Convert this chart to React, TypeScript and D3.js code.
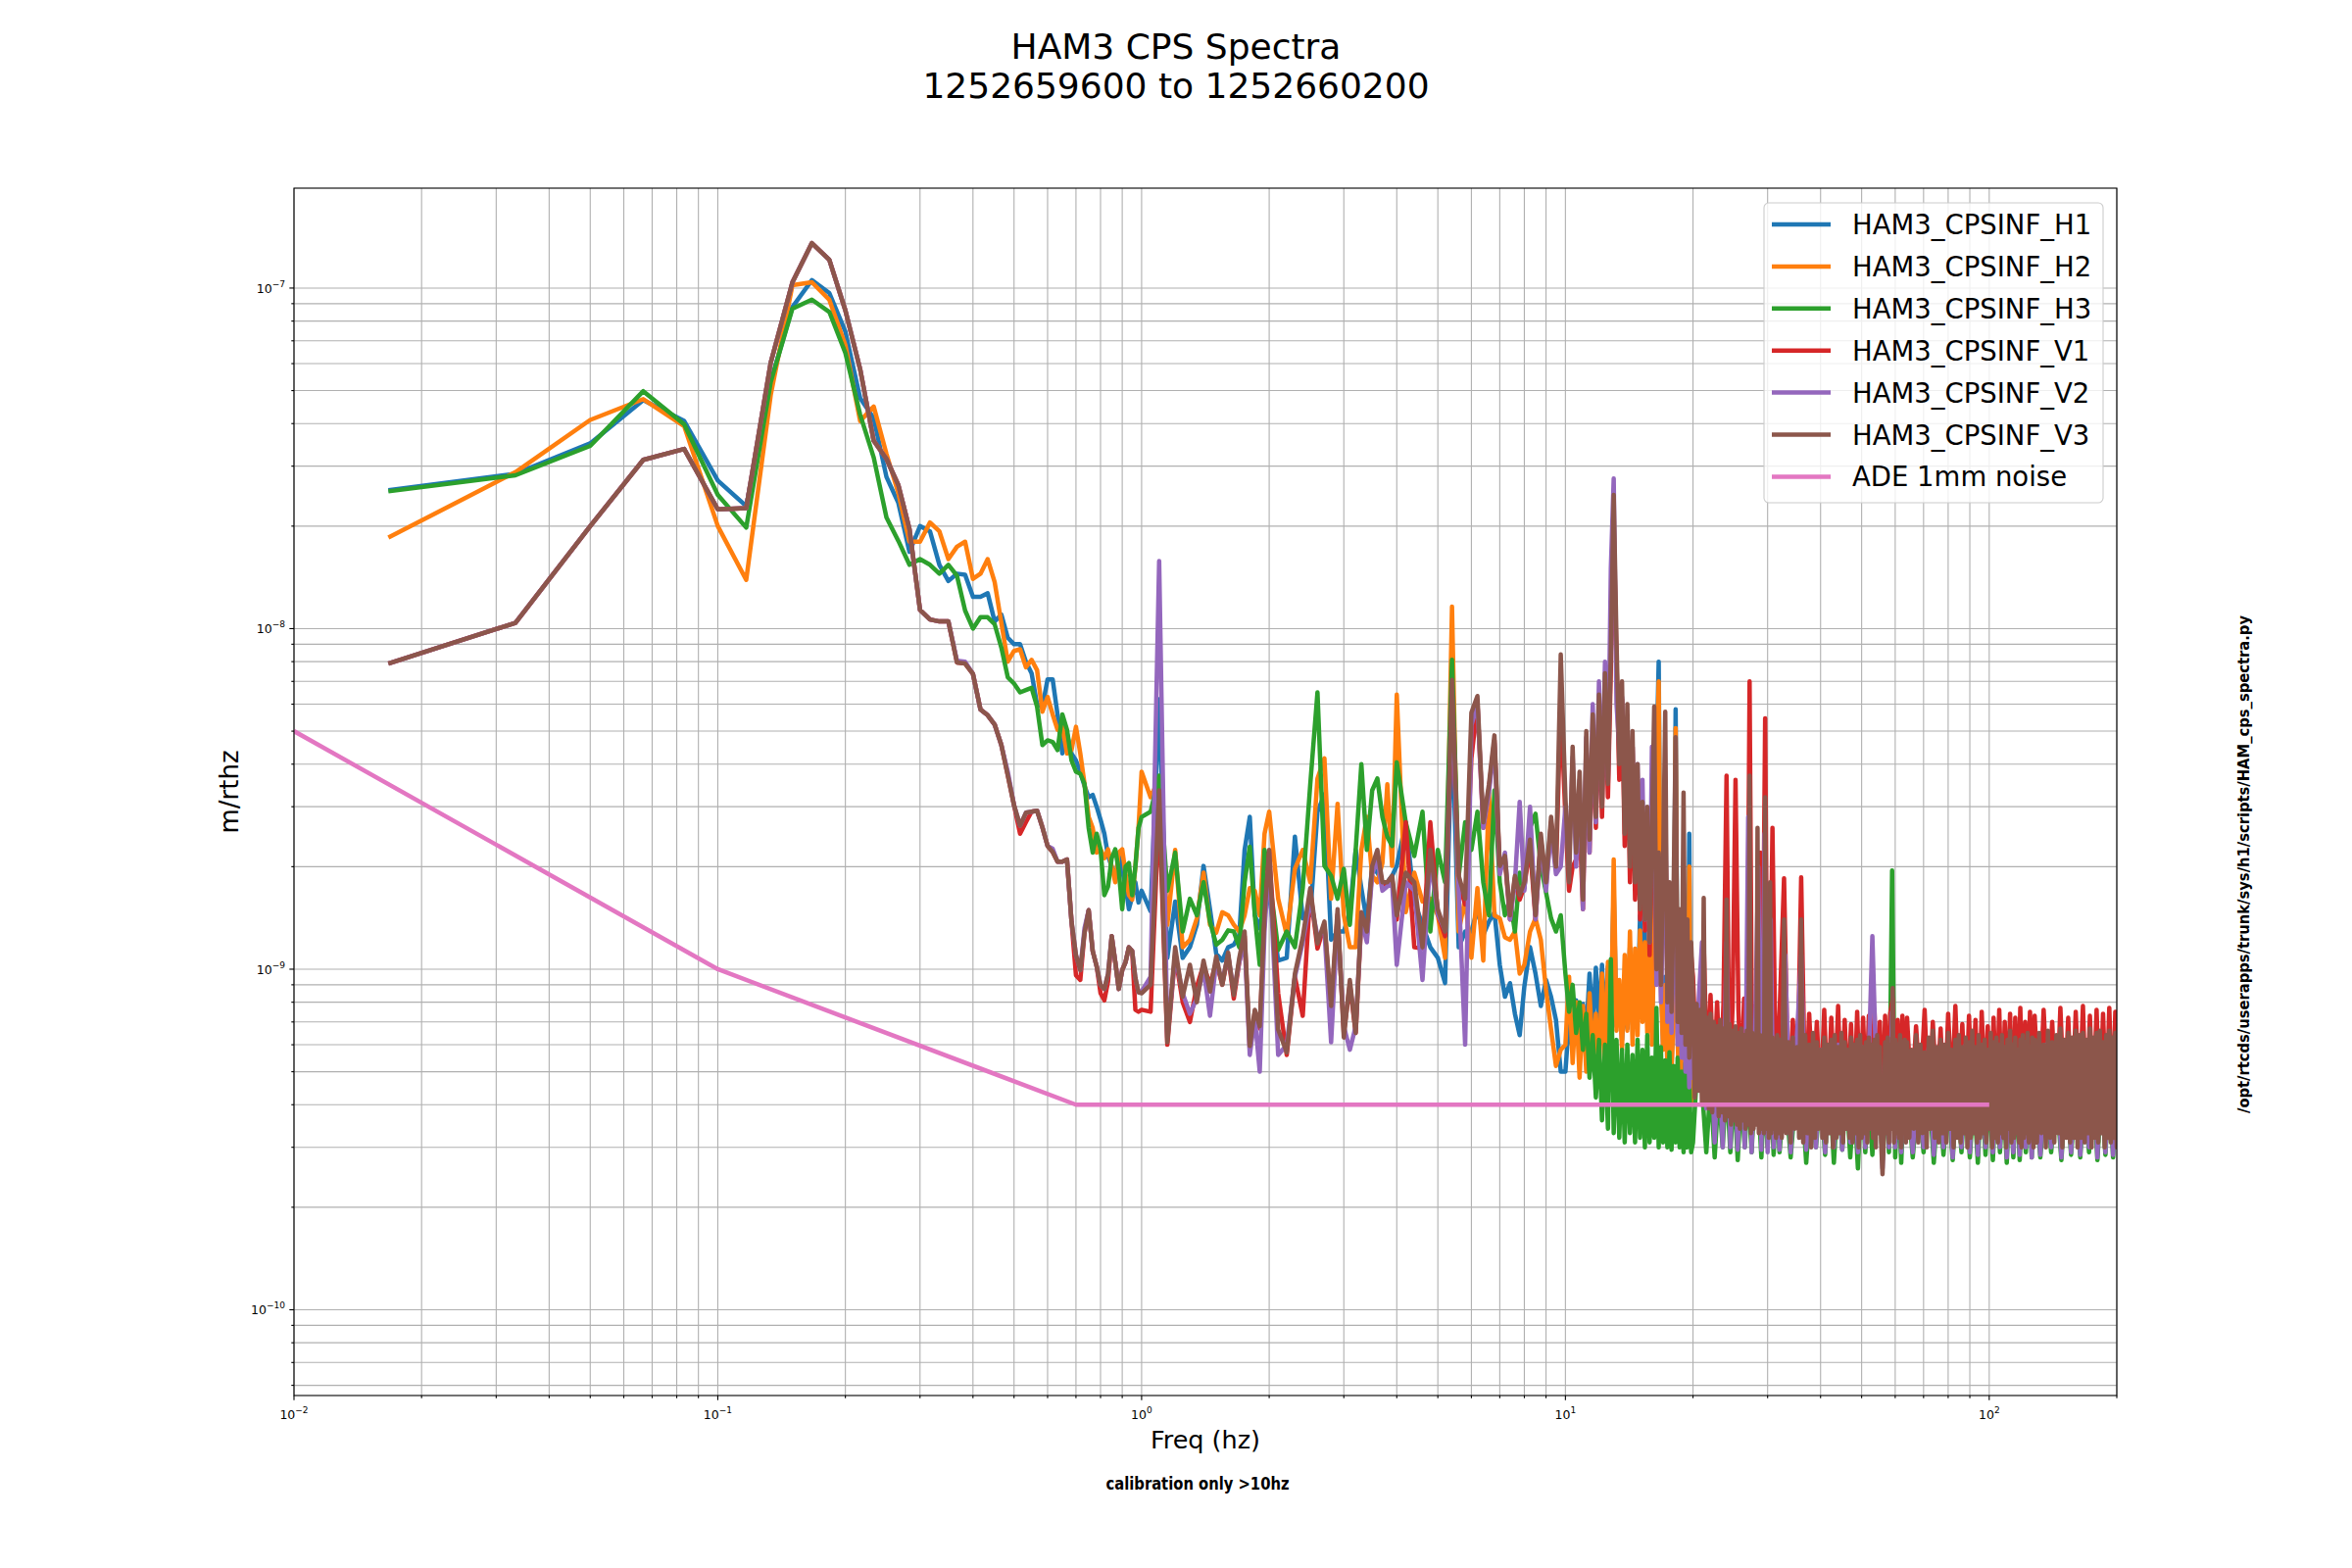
import React, { useEffect, useRef } from 'react';
import * as d3 from 'd3';

// all amplitudes below are in units of 1e-10 m/rthz
const UNIT = 1e-10;

// low frequency bins (k / 60 Hz)
const lowFreq = [
  0.0167, 0.0333, 0.05, 0.0667, 0.0833, 0.1, 0.1167, 0.1333, 0.15, 0.1667,
  0.1833, 0.2, 0.2167, 0.2333, 0.25, 0.2667, 0.2833, 0.3, 0.3167, 0.3333,
  0.35, 0.3667, 0.3833, 0.4, 0.4167, 0.4333, 0.45, 0.4667, 0.4833, 0.5,
  0.5167, 0.5333, 0.55, 0.5667, 0.5833, 0.6, 0.6167, 0.6333, 0.65, 0.6667,
  0.6833, 0.7, 0.7167, 0.7333, 0.75, 0.7667, 0.7833, 0.8, 0.8167, 0.8333,
  0.85, 0.8667, 0.8833, 0.9, 0.9167, 0.9333, 0.95, 0.9667, 0.9833,
];

// 1 to 9.75 Hz
const hfFreq = [
  1, 1.05, 1.1, 1.15, 1.2, 1.25, 1.3, 1.35, 1.4, 1.45, 1.5, 1.55, 1.6, 1.65, 1.7, 1.75, 1.8, 1.85, 1.9, 1.95,
  2, 2.1, 2.2, 2.3, 2.4, 2.5, 2.6, 2.7, 2.8, 2.9, 3, 3.1, 3.2, 3.3, 3.4, 3.5, 3.6, 3.7, 3.8, 3.9,
  4, 4.2, 4.4, 4.6, 4.8, 5, 5.2, 5.4, 5.6, 5.8, 6, 6.2, 6.4, 6.6, 6.8, 7, 7.2, 7.4, 7.6, 7.8,
  8, 8.25, 8.5, 8.75, 9, 9.25, 9.5, 9.75,
];

// 10 to 19.8 Hz
const midFreq = [
  10, 10.2, 10.4, 10.6, 10.8, 11, 11.2, 11.4, 11.6, 11.8, 12, 12.2, 12.4, 12.6, 12.8, 13, 13.2, 13.4, 13.6, 13.8,
  14, 14.2, 14.4, 14.6, 14.8, 15, 15.2, 15.4, 15.6, 15.8, 16, 16.2, 16.4, 16.6, 16.8, 17, 17.2, 17.4, 17.6, 17.8,
  18, 18.2, 18.4, 18.6, 18.8, 19, 19.2, 19.4, 19.6, 19.8,
];

// 20 to 204 Hz, for H1 / H2 / H3 / V2
const bandFreq = [
  20, 20.5, 21, 21.5, 22, 22.5, 23, 23.5,
  24, 24.5, 25, 25.5, 26, 26.5, 27, 27.5, 28, 28.5, 29, 29.5, 30, 30.5, 31, 31.5,
  32, 33, 34, 35, 36, 37, 38, 39, 40, 41, 42, 43, 44, 45, 46, 47,
  48, 49, 50, 51, 52, 53, 54, 55, 56, 57, 58, 59, 60, 61, 62, 63,
  64, 66, 68, 70, 72, 74, 76, 78, 80, 82, 84, 86, 88, 90, 92, 94,
  96, 98, 100, 102, 104, 106, 108, 110, 112, 114, 116, 118, 120, 122, 124, 126,
  128, 132, 136, 140, 144, 148, 152, 156, 160, 164, 168, 172, 176, 180, 184, 188, 192, 196, 200, 204,
];

// 20 to 204.8 Hz, for V1
const denseFreq = [
  20, 20.4, 20.8, 21.2, 21.6, 22, 22.4, 22.8, 23.2, 23.6, 24, 24.4, 24.8, 25.2, 25.6,
  26, 26.4, 26.8, 27.2, 27.6, 28, 28.4, 28.8, 29.2, 29.6, 30, 30.4, 30.8, 31.2, 31.6,
  32, 32.8, 33.6, 34.4, 35.2, 36, 36.8, 37.6, 38.4, 39.2, 40, 40.8, 41.6, 42.4, 43.2, 44, 44.8, 45.6, 46.4, 47.2,
  48, 48.8, 49.6, 50.4, 51.2, 52, 52.8, 53.6, 54.4, 55.2, 56, 56.8, 57.6, 58.4, 59.2, 60, 60.8, 61.6, 62.4, 63.2,
  64, 65.6, 67.2, 68.8, 70.4, 72, 73.6, 75.2, 76.8, 78.4, 80, 81.6, 83.2, 84.8, 86.4, 88, 89.6, 91.2, 92.8, 94.4,
  96, 97.6, 99.2, 100.8, 102.4, 104, 105.6, 107.2, 108.8, 110.4, 112, 113.6, 115.2, 116.8, 118.4, 120, 121.6, 123.2, 124.8, 126.4,
  128, 131.2, 134.4, 137.6, 140.8, 144, 147.2, 150.4, 153.6, 156.8, 160, 163.2, 166.4, 169.6, 172.8,
  176, 179.2, 182.4, 185.6, 188.8, 192, 195.2, 198.4, 201.6, 204.8,
];

// 20 to 204.8 Hz, for V3
const fineFreq = [
  20, 20.2, 20.4, 20.6, 20.8, 21, 21.2, 21.4, 21.6, 21.8, 22, 22.2, 22.4, 22.6, 22.8, 23, 23.2, 23.4, 23.6, 23.8,
  24, 24.2, 24.4, 24.6, 24.8, 25, 25.2, 25.4, 25.6, 25.8, 26, 26.2, 26.4, 26.6, 26.8, 27, 27.2, 27.4, 27.6, 27.8,
  28, 28.2, 28.4, 28.6, 28.8, 29, 29.2, 29.4, 29.6, 29.8, 30, 30.2, 30.4, 30.6, 30.8, 31, 31.2, 31.4, 31.6, 31.8,
  32, 32.4, 32.8, 33.2, 33.6, 34, 34.4, 34.8, 35.2, 35.6, 36, 36.4, 36.8, 37.2, 37.6, 38, 38.4, 38.8, 39.2, 39.6,
  40, 40.4, 40.8, 41.2, 41.6, 42, 42.4, 42.8, 43.2, 43.6, 44, 44.4, 44.8, 45.2, 45.6, 46, 46.4, 46.8, 47.2, 47.6,
  48, 48.4, 48.8, 49.2, 49.6, 50, 50.4, 50.8, 51.2, 51.6, 52, 52.4, 52.8, 53.2, 53.6, 54, 54.4, 54.8, 55.2, 55.6,
  56, 56.4, 56.8, 57.2, 57.6, 58, 58.4, 58.8, 59.2, 59.6, 60, 60.4, 60.8, 61.2, 61.6, 62, 62.4, 62.8, 63.2, 63.6,
  64, 64.8, 65.6, 66.4, 67.2, 68, 68.8, 69.6, 70.4, 71.2, 72, 72.8, 73.6, 74.4, 75.2, 76, 76.8, 77.6, 78.4, 79.2,
  80, 80.8, 81.6, 82.4, 83.2, 84, 84.8, 85.6, 86.4, 87.2, 88, 88.8, 89.6, 90.4, 91.2, 92, 92.8, 93.6, 94.4, 95.2,
  96, 96.8, 97.6, 98.4, 99.2, 100, 100.8, 101.6, 102.4, 103.2, 104, 104.8, 105.6, 106.4, 107.2, 108, 108.8, 109.6, 110.4, 111.2,
  112, 112.8, 113.6, 114.4, 115.2, 116, 116.8, 117.6, 118.4, 119.2, 120, 120.8, 121.6, 122.4, 123.2, 124, 124.8, 125.6, 126.4, 127.2,
  128, 129.6, 131.2, 132.8, 134.4, 136, 137.6, 139.2, 140.8, 142.4, 144, 145.6, 147.2, 148.8, 150.4, 152, 153.6, 155.2, 156.8, 158.4,
  160, 161.6, 163.2, 164.8, 166.4, 168, 169.6, 171.2, 172.8, 174.4, 176, 177.6, 179.2, 180.8, 182.4, 184, 185.6, 187.2, 188.8, 190.4,
  192, 193.6, 195.2, 196.8, 198.4, 200, 201.6, 203.2, 204.8,
];

// ---------- HAM3_CPSINF_H1 ----------
const lowH1 = [
  255, 285, 350, 469, 407, 272, 229, 530, 880, 1055, 967, 745, 475, 415, 279, 234, 168,
  200, 193, 154, 138, 145, 144, 124, 124, 127, 105, 110, 94, 90, 90, 80, 74, 60, 59, 71, 71,
  56, 43, 49, 43, 41, 38, 34.5, 32, 32.5, 30, 27.5, 25, 21.5, 20, 18.5, 21.5, 19.5, 17.5, 15, 16.3, 18, 15.7,
];
const hfH1 = [
  17, 14.8, 62, 10.8, 15.8, 10.8, 11.6, 13.5, 20.1, 15, 11.1, 10.6, 11.6, 11.8, 12.6, 22.4, 28, 14.4, 13.2, 16.1,
  16.5, 10.6, 10.8, 24.5, 14.1, 14.4, 29, 32.6, 12.2, 12.9, 12.9, 14.7, 22.4, 17.3, 13.8, 20.1, 19.2, 18, 18, 18.8,
  20.1, 27, 15.8, 13.5, 11.6, 10.8, 9.1, 54.3, 11.6, 12.9, 12.9, 15, 12.6, 13.8, 14.7, 10.3, 8.3, 9.1, 7.4, 6.4,
  8.9, 11.6, 9.7, 7.8, 9.3, 8.3, 7.1, 5.0,
];
const midH1 = [
  5.0, 7.1, 5.8, 8.1, 6.0, 7.9, 6.5, 9.7, 6.8, 10.1, 7.0, 10.3, 6.6, 10.2, 7.4, 17, 6.8, 8.7, 6.2, 8.5,
  6.7, 11.6, 6.9, 10.3, 7.2, 14.4, 7.5, 12.9, 7.0, 12, 6.6, 14, 40, 80, 10, 6.0, 9.5, 5.5, 8.5, 5.2,
  8.0, 58, 6.5, 4.8, 7.2, 4.4, 6.8, 4.2, 25, 4.5,
];
const bandH1 = [
  6, 7, 5, 4.2, 6.0, 3.6, 5.8, 3.4,
  6, 3.3, 5.5, 3.2, 5.4, 3.3, 6, 3.1, 5.3, 5, 3.2, 5.5, 3.1, 5.2, 3.2, 5.4,
  3.2, 5.2, 3.1, 5.0, 5.3, 3.2, 5.1, 3.3, 5.2, 3.1, 5.0, 3.2, 5.3, 3.1, 5.1, 3.2,
  4.9, 3.1, 5.2, 3.2, 5.0, 3.1, 5.2, 5.1, 3.0, 5.0, 3.2, 6.0, 3.1, 5.1, 3.2, 5.0,
  5.1, 3.1, 4.9, 3.2, 5.2, 3.0, 5.0, 3.2, 4.8, 3.1, 5.1, 3.2, 5.3, 3.0, 5.0, 3.1,
  5.2, 3.2, 5.0, 3.0, 5.3, 3.2, 4.9, 3.1, 5.1, 3.0, 5.2, 3.1, 5.0, 3.2, 5.1, 3.0,
  5.2, 3.1, 5.3, 3.2, 5.0, 3.0, 5.4, 3.1, 5.1, 3.0, 5.2, 3.2, 5.4, 3.0, 5.1, 3.1, 5.3, 3.0, 5.2, 3.1,
];

// ---------- HAM3_CPSINF_H2 ----------
const lowH2 = [
  185, 288, 410, 472, 393, 200, 139, 485, 1020, 1040, 924, 680, 407, 449, 326, 250, 180,
  180, 205, 193, 160, 174, 180, 140, 145, 160, 137, 104, 80, 86, 87, 77, 81, 75.5, 57, 63, 56,
  50.5, 51.5, 43, 44, 51.5, 43, 35, 28, 26, 22, 22.5, 21.2, 22.5, 20, 18, 22, 22.5, 19, 16.5, 16, 20, 26,
];
const hfH2 = [
  38, 32, 36.3, 13.5, 22.4, 11.6, 12.2, 14.1, 19.2, 13.5, 12.8, 14.7, 14.4, 13.5, 12.9, 14.4, 17.3, 17, 14.4, 25,
  29, 16.1, 12.6, 19.7, 22.4, 18, 36.3, 41.6, 16.1, 30.6, 14.4, 11.6, 11.6, 22.4, 28, 18.8, 18, 20.5, 34.9, 20.1,
  64, 14.7, 19.2, 15.8, 16.1, 14.4, 10.8, 116, 12.9, 16.1, 10.8, 17.3, 10.6, 33, 14.4, 14.1, 12.4, 12.2, 12.9, 9.7,
  10.3, 12.9, 14.1, 12.2, 8.7, 6.65, 5.2, 5.8,
];
const midH2 = [
  6.0, 9.5, 5.3, 8.0, 4.8, 7.8, 5.0, 8.5, 5.5, 7.4, 4.9, 9.7, 5.2, 10.5, 6.0, 21, 6.6, 9.3, 5.8, 11,
  6.6, 12.9, 6.0, 11.5, 6.4, 13, 7.0, 12, 6.5, 14, 6.0, 12, 35, 70, 9, 5.8, 9.0, 5.2, 8.0, 5.0,
  7.5, 51, 6.0, 4.6, 6.8, 4.2, 7.0, 4.0, 20, 4.0,
];
const bandH2 = [
  5.5, 6.5, 4.8, 4.0, 5.8, 3.5, 5.6, 3.3,
  5.8, 3.2, 5.4, 3.1, 5.3, 3.2, 5.9, 3.0, 5.2, 4.9, 3.1, 5.4, 3.0, 5.1, 3.1, 5.3,
  3.1, 5.0, 3.2, 5.1, 5.2, 3.1, 5.0, 3.2, 5.1, 3.2, 4.9, 3.1, 5.2, 3.2, 5.0, 3.1,
  4.8, 3.2, 5.1, 3.1, 5.0, 3.2, 5.1, 5.0, 3.1, 4.9, 3.1, 5.8, 3.2, 5.0, 3.1, 4.9,
  5.0, 3.2, 4.8, 3.1, 5.1, 3.1, 4.9, 3.1, 4.7, 3.2, 5.0, 3.1, 5.2, 3.1, 4.9, 3.2,
  5.1, 3.1, 4.9, 3.1, 5.2, 3.1, 4.8, 3.2, 5.0, 3.1, 5.1, 3.2, 4.9, 3.1, 5.0, 3.1,
  5.1, 3.2, 5.2, 3.1, 4.9, 3.1, 5.3, 3.2, 5.0, 3.1, 5.1, 3.1, 5.3, 3.1, 5.0, 3.2, 5.2, 3.1, 5.1, 3.2,
];

// ---------- HAM3_CPSINF_H3 ----------
const lowH3 = [
  253, 282, 344, 498, 398, 247, 198, 530, 870, 925, 851, 645, 425, 318, 212, 181, 154,
  160, 154, 145, 154, 143, 113, 100, 108, 108, 103, 88, 72, 69, 65, 66, 67, 59, 45.5, 47, 46.5,
  44, 56, 50.5, 41, 38, 37.5, 35, 26, 22, 25, 22.5, 16.5, 17.5, 21.2, 22.5, 19.5, 15, 20, 20.5, 16.5, 20, 26,
];
const hfH3 = [
  28, 29, 37, 17, 22, 12.9, 16.1, 14.4, 18, 13.8, 11.8, 12.2, 13, 12.9, 11.6, 18, 22.9, 14.4, 10.3, 22.4,
  18.8, 11.4, 12.9, 11.6, 17.3, 34.9, 65, 20.1, 18.8, 16.1, 19.7, 13.5, 22.4, 40, 22.4, 33.5, 36.3, 28, 24.5, 23,
  40.5, 27, 21.5, 29, 12.9, 22.4, 18, 81, 18.8, 27, 22.4, 29, 18, 14.4, 33.5, 18, 14.4, 16.1, 12.9, 19.2,
  17.3, 26, 28.6, 20.1, 16.8, 14.1, 12.9, 14.4,
];
const midH3 = [
  9.7, 7.5, 9.0, 6.5, 8.0, 5.8, 7.4, 4.8, 6.4, 4.2, 6.2, 3.6, 6.0, 3.4, 10.7, 3.3, 6.2, 3.2, 5.8, 3.1,
  6.0, 3.3, 5.6, 3.1, 6.2, 3.2, 5.8, 3.0, 6.4, 3.1, 5.5, 3.2, 7.7, 3.0, 5.9, 3.1, 5.4, 3.0, 5.7, 2.95,
  5.2, 3.1, 5.5, 3.0, 5.0, 2.9, 5.3, 3.0, 4.9, 2.9,
];
const bandH3 = [
  3.1, 5.4, 4.5, 2.9, 4.6, 2.8, 4.4, 3.0,
  4.7, 2.9, 4.5, 2.75, 4.3, 3.0, 4.6, 2.9, 4.5, 4.2, 2.8, 4.4, 3.0, 4.6, 2.85, 4.4,
  2.9, 4.5, 2.8, 4.4, 4.6, 2.7, 4.5, 3.0, 4.3, 2.85, 4.6, 2.7, 4.4, 2.95, 4.5, 2.8,
  4.2, 2.6, 4.6, 2.9, 4.4, 2.85, 4.5, 4.3, 2.75, 4.5, 2.9, 19.5, 2.8, 4.4, 2.7, 4.5,
  4.5, 2.8, 4.3, 2.9, 4.6, 2.7, 4.4, 2.85, 4.2, 2.75, 4.5, 2.9, 4.6, 2.8, 4.3, 2.7,
  4.5, 2.85, 4.4, 2.75, 4.6, 2.9, 4.3, 2.7, 4.5, 2.8, 4.6, 2.75, 4.3, 2.9, 4.5, 2.8,
  4.5, 2.8, 4.6, 2.9, 4.4, 2.75, 4.6, 2.85, 4.3, 2.8, 4.5, 2.9, 4.7, 2.75, 4.4, 2.85, 4.6, 2.8, 4.5, 2.85,
];

// ---------- HAM3_CPSINF_V1 ----------
const lowV1 = [
  79, 104, 200, 313, 337, 224, 226, 604, 1040, 1355, 1210, 860, 578, 356, 315, 264, 196,
  113.5, 106.4, 105, 105, 79.6, 79, 73.6, 57.9, 55.7, 52.3, 45.5, 37.1, 30.3, 25, 27, 29, 29.2, 26.1, 23, 22.1,
  20.7, 20.7, 21, 13.8, 9.6, 9.3, 12.8, 14.9, 11.3, 10.2, 8.5, 8.1, 9.2, 12.5, 10.5, 8.75, 9.94, 10.5, 11.6, 11.3, 7.6, 7.5,
];
const hfV1 = [
  7.6, 7.5, 30, 6.0, 11, 8.0, 7.0, 8.9, 10.3, 9.0, 10.5, 9, 11, 8.2, 10.5, 12.5, 5.8, 7.5, 6.7, 14,
  22, 8.5, 5.6, 9.5, 7.3, 17, 11.5, 13.5, 7.6, 14.5, 6.5, 9.0, 6.5, 14, 12.5, 19.5, 22, 17.5, 18, 18.5,
  14, 27, 11.6, 11.5, 27, 14.5, 12.5, 60, 18, 15.5, 41.6, 60, 26, 34, 47, 19.5, 21, 14, 18.5, 16,
  17.5, 23, 14, 24, 17.5, 27, 19.7, 60,
];
const midV1 = [
  28, 17, 20, 21, 27, 15, 44, 22, 50, 26, 58, 28, 66, 32, 76, 200, 80, 36, 62, 23,
  54, 18, 45, 16, 36, 14, 28, 13, 27, 11, 22, 30, 9.5, 20, 9, 18, 28, 9, 16, 8.5,
  15, 21, 8.5, 14, 8, 18, 8, 12, 8, 11,
];
const bandV1 = [
  9.5, 5.0, 9.0, 12, 4.8, 8.4, 4.6, 8.0, 4.5, 7.9, 37, 4.4, 7.8, 36, 7.6,
  4.5, 8.2, 4.3, 70, 4.2, 7.8, 4.6, 22, 7.4, 54.5, 4.2, 7.5, 26, 7.6, 4.4,
  7.3, 18.5, 4.0, 7.1, 4.1, 18.6, 3.9, 7.4, 4.2, 7.0, 4.0, 7.6, 3.9, 7.2, 4.1, 7.8, 3.8, 7.1, 4.2, 6.9,
  4.0, 7.5, 3.9, 7.2, 4.1, 7.3, 3.8, 7.6, 4.0, 7.0, 3.6, 7.3, 4.1, 7.4, 8.2, 3.9, 7.1, 4.2, 7.3, 3.9,
  7.2, 4.0, 6.8, 4.3, 7.6, 3.8, 7.0, 4.2, 6.7, 3.7, 7.4, 4.3, 7.8, 4.0, 6.9, 3.8, 7.3, 4.1, 7.1, 3.7,
  7.5, 4.3, 6.8, 3.6, 7.2, 4.0, 7.6, 3.8, 7.0, 4.2, 7.4, 3.7, 7.2, 4.0, 7.7, 4.1, 7.0, 3.8, 7.5, 4.0,
  7.3, 3.8, 7.6, 4.1, 7.0, 3.7, 7.7, 4.0, 7.2, 3.8, 7.5, 4.1, 7.8, 3.7, 7.3,
  4.0, 7.6, 3.8, 7.4, 4.0, 7.7, 3.8, 7.5, 4.0, 7.6,
];

// ---------- HAM3_CPSINF_V2 ----------
const lowV2 = [
  79, 104, 200, 313, 337, 224, 226, 604, 1040, 1355, 1210, 860, 578, 356, 315, 264, 196,
  113.5, 106.4, 105, 105, 80.5, 80, 73.6, 57.9, 55.7, 52.3, 45.5, 38, 30.3, 26.4, 28.8, 29, 29.2, 26.1, 23, 22.6,
  20.7, 20.7, 21, 13.8, 11, 9.94, 13.2, 14.9, 11.3, 10.2, 8.98, 8.75, 9.68, 12.5, 10.5, 8.75, 9.94, 10.5, 11.6, 11.3, 9.44, 8.55,
];
const hfV2 = [
  8.6, 9.5, 158, 6.3, 11, 8.5, 7.4, 8.2, 10, 7.3, 10.5, 9.2, 11, 8.6, 10.5, 12, 5.6, 7.2, 5.0, 13,
  21, 5.6, 6.0, 9.5, 12, 16, 12.5, 13, 6.1, 14, 6.8, 5.8, 6.8, 14, 12, 19, 21, 17, 17.5, 18,
  10.3, 18, 17, 9.3, 21, 14.5, 13, 65, 17, 6.0, 52, 60, 26, 33, 46, 19, 22, 14, 18, 31,
  17, 30, 14, 24, 17, 26, 19, 20,
];
const midV2 = [
  30, 20, 42, 20, 36, 15, 48, 22, 60, 27, 70, 32, 80, 36, 150, 276, 60, 45, 63, 35,
  55, 25, 45, 22, 40, 17, 36, 14, 28, 12, 45, 40, 9, 20, 8, 15, 35, 7, 12, 6.5,
  11, 30, 6, 12, 5.5, 20, 5, 9, 4.5, 8,
];
const bandV2 = [
  4.8, 7, 12, 3.9, 6.6, 3.1, 6.0, 3.0,
  12, 3.0, 5.9, 2.95, 5.8, 3.0, 28, 2.9, 5.9, 20, 2.95, 25, 2.9, 14, 3.0, 5.8,
  2.95, 11, 2.9, 5.6, 11, 2.95, 5.5, 3.0, 5.8, 2.9, 5.4, 3.0, 6.0, 2.95, 5.6, 3.1,
  5.3, 2.9, 5.9, 3.0, 5.5, 12.5, 5.6, 5.8, 2.6, 5.5, 3.0, 7.5, 3.0, 5.7, 2.9, 5.5,
  5.6, 2.9, 5.3, 3.0, 5.9, 2.85, 5.5, 3.0, 5.2, 2.8, 5.8, 3.0, 6.0, 2.9, 5.4, 2.85,
  5.7, 3.0, 5.5, 2.9, 5.9, 3.0, 5.3, 2.8, 5.7, 2.9, 5.8, 2.85, 5.4, 3.0, 5.8, 2.8,
  5.7, 2.85, 6.0, 3.0, 5.5, 2.8, 6.1, 2.9, 5.6, 2.85, 5.9, 3.0, 6.2, 2.8, 5.7, 2.9, 6.0, 2.85, 5.8, 2.9,
];

// ---------- HAM3_CPSINF_V3 ----------
const lowV3 = [
  79, 104, 200, 313, 337, 224, 226, 604, 1040, 1355, 1210, 860, 578, 356, 315, 264, 196,
  113.5, 106.4, 105, 105, 79.6, 79, 73.6, 57.9, 55.7, 52.3, 45.5, 37.1, 30.3, 26.4, 28.8, 29, 29.2, 26.1, 23, 22.1,
  20.7, 20.7, 21, 13.8, 11, 9.94, 12.8, 14.9, 11.3, 10.2, 8.98, 8.75, 9.68, 12.5, 10.5, 8.75, 9.94, 10.5, 11.6, 11.3, 9.44, 8.55,
];
const hfV3 = [
  8.5, 9, 33.5, 6.1, 11.6, 8.3, 10.3, 8.0, 10.6, 8.6, 10.9, 9.0, 11.2, 8.4, 10.8, 12.9, 5.95, 7.6, 6.8, 14.4,
  22.4, 6.65, 5.7, 9.7, 12.4, 17.3, 11.9, 13.8, 7.8, 15, 6.3, 9.3, 6.5, 14.7, 12.9, 20.1, 22.4, 18, 18, 18.8,
  14.4, 19.2, 18, 11.6, 22.4, 15, 12.9, 70.7, 18.8, 16.1, 56.6, 63.4, 27, 34.9, 48.6, 20.1, 21.5, 14.4, 18.8, 16.5,
  18, 24, 14.4, 25, 18, 28, 20, 84,
];
const midV3 = [
  32, 18, 45, 22, 38, 16, 50, 24, 56, 28, 64, 30, 74, 35, 85, 247, 92, 40, 70, 25,
  60, 20, 50, 18, 40, 15, 31, 14, 30, 12, 25, 59, 10, 22, 9, 20, 57, 8, 18, 7.5,
  17, 48, 7, 15, 6.5, 33, 6, 14, 5.5, 12,
];
const bandV3 = [
  8.5, 4.2, 7.9, 4.4, 7.6, 4.0, 16.2, 4.1, 7.2, 3.9, 7.4, 3.8, 7.0, 4.0, 6.8, 3.7, 7.1, 3.8, 6.7, 3.6,
  16, 3.7, 6.9, 3.5, 6.6, 3.6, 6.8, 3.5, 6.5, 3.4, 6.7, 3.6, 6.4, 3.4, 6.6, 3.5, 37, 3.3, 6.5, 3.4,
  6.3, 3.5, 26, 3.3, 6.4, 3.4, 6.2, 3.3, 32, 3.4, 6.5, 3.2, 18, 3.3, 6.3, 3.4, 6.1, 3.2, 6.4, 3.3,
  6.2, 3.2, 14, 3.3, 6.1, 3.1, 6.3, 3.4, 5.9, 3.2, 14, 3.1, 6.4, 3.3, 6.0, 3.0, 6.5, 3.2, 6.1, 3.4,
  5.8, 3.2, 6.3, 3.1, 6.0, 3.3, 6.2, 3.0, 6.4, 3.2, 5.9, 3.3, 6.5, 3.1, 6.1, 3.4, 5.8, 3.2, 6.3, 3.1,
  6.0, 3.3, 6.2, 3.0, 6.4, 3.2, 5.9, 3.3, 6.1, 3.1, 6.3, 3.4, 6.0, 3.2, 6.2, 3.0, 6.4, 3.3, 5.9, 3.1,
  2.5, 3.2, 6.1, 3.3, 6.3, 3.1, 6.0, 3.4, 8.8, 3.1, 6.2, 3.3, 6.0, 3.2, 6.4, 3.0, 6.1, 3.3, 6.2, 3.1,
  6.1, 3.2, 5.8, 3.4, 6.4, 3.1, 6.0, 3.3, 5.7, 3.0, 6.3, 3.4, 6.6, 3.2, 5.9, 3.1, 6.2, 3.3, 6.0, 3.1,
  6.5, 3.4, 5.8, 3.0, 6.2, 3.2, 6.4, 3.1, 5.9, 3.3, 6.3, 3.0, 6.1, 3.2, 6.6, 3.3, 5.9, 3.1, 6.4, 3.2,
  6.0, 3.3, 6.2, 3.1, 5.8, 3.4, 6.5, 3.0, 6.1, 3.2, 6.3, 3.1, 6.0, 3.3, 6.4, 3.2, 5.9, 3.0, 6.2, 3.4,
  6.6, 3.1, 6.0, 3.2, 6.3, 3.3, 5.8, 3.1, 6.2, 3.0, 6.4, 3.2, 6.1, 3.3, 6.5, 3.1, 5.9, 3.2, 6.3, 3.0,
  6.2, 3.1, 6.5, 3.3, 6.0, 3.0, 6.6, 3.2, 6.1, 3.1, 6.4, 3.3, 6.7, 3.0, 6.2, 3.2, 6.5, 3.1, 6.3, 3.2,
  6.6, 3.0, 6.4, 3.2, 6.5, 3.1, 6.2, 3.3, 6.7, 3.0, 6.3, 3.2, 6.5, 3.1, 6.6, 3.3, 6.1, 3.0, 6.4, 3.2,
  6.6, 3.1, 6.3, 3.2, 6.5, 3.0, 6.7, 3.2, 6.4,
];

// ADE 1mm noise reference
const adeFreq = [0.01, 0.1, 0.7, 100];
const adeVal = [50, 10, 4, 4];

const seriesNames = [
  'HAM3_CPSINF_H1', 'HAM3_CPSINF_H2', 'HAM3_CPSINF_H3',
  'HAM3_CPSINF_V1', 'HAM3_CPSINF_V2', 'HAM3_CPSINF_V3', 'ADE 1mm noise',
];
const seriesColors = ['#1f77b4', '#ff7f0e', '#2ca02c', '#d62728', '#9467bd', '#8c564b', '#e377c2'];

// each channel: pieces of [frequencies, values]
const channels: [number[], number[]][][] = [
  [[lowFreq, lowH1], [hfFreq, hfH1], [midFreq, midH1], [bandFreq, bandH1]],
  [[lowFreq, lowH2], [hfFreq, hfH2], [midFreq, midH2], [bandFreq, bandH2]],
  [[lowFreq, lowH3], [hfFreq, hfH3], [midFreq, midH3], [bandFreq, bandH3]],
  [[lowFreq, lowV1], [hfFreq, hfV1], [midFreq, midV1], [denseFreq, bandV1]],
  [[lowFreq, lowV2], [hfFreq, hfV2], [midFreq, midV2], [bandFreq, bandV2]],
  [[lowFreq, lowV3], [hfFreq, hfV3], [midFreq, midV3], [fineFreq, bandV3]],
];

const App: React.FC = () => {
  const ref = useRef<SVGSVGElement | null>(null);

  useEffect(() => {
    if (!ref.current) return;
    const svg = d3.select(ref.current);
    svg.selectAll('*').remove();

    const left = 300, right = 2160, top = 192, bottom = 1424;
    const font = 'DejaVu Sans, Liberation Sans, sans-serif';
    const lw = 4.5;

    const x = d3.scaleLog().domain([0.01, 200]).range([left, right]);
    const y = d3.scaleLog().domain([5.6e-11, 1.965e-7]).range([bottom, top]);

    svg.append('rect').attr('width', 2400).attr('height', 1600).attr('fill', '#fff');

    // log ticks, majors and minors
    const xTicks: { v: number; e: number; major: boolean }[] = [];
    for (let e = -2; e <= 2; e++) {
      for (let m = 1; m <= 9; m++) {
        const v = m * Math.pow(10, e);
        if (v >= 0.01 * 0.999 && v <= 200 * 1.001) xTicks.push({ v, e, major: m === 1 });
      }
    }
    const yTicks: { v: number; e: number; major: boolean }[] = [];
    for (let e = -11; e <= -7; e++) {
      for (let m = 1; m <= 9; m++) {
        const v = m * Math.pow(10, e);
        if (v >= 5.6e-11 && v <= 1.965e-7) yTicks.push({ v, e, major: m === 1 });
      }
    }

    // grid
    const grid = svg.append('g').attr('stroke', '#b0b0b0').attr('stroke-width', 1.1);
    xTicks.forEach(t => {
      grid.append('line').attr('x1', x(t.v)).attr('x2', x(t.v)).attr('y1', top).attr('y2', bottom);
    });
    yTicks.forEach(t => {
      grid.append('line').attr('x1', left).attr('x2', right).attr('y1', y(t.v)).attr('y2', y(t.v));
    });

    // clip to the axes
    svg.append('defs').append('clipPath').attr('id', 'plotclip')
      .append('rect').attr('x', left).attr('y', top).attr('width', right - left).attr('height', bottom - top);

    const line = d3.line<[number, number]>()
      .x(d => x(d[0]))
      .y(d => y(d[1]));

    const plot = svg.append('g').attr('clip-path', 'url(#plotclip)');
    channels.forEach((pieces, i) => {
      const pts: [number, number][] = [];
      pieces.forEach(([freqs, vals]) => {
        vals.forEach((v, k) => { if (k < freqs.length) pts.push([freqs[k], v * UNIT]); });
      });
      plot.append('path')
        .attr('d', line(pts) as string)
        .attr('fill', 'none')
        .attr('stroke', seriesColors[i])
        .attr('stroke-width', lw)
        .attr('stroke-linejoin', 'round');
    });
    const adePts: [number, number][] = adeFreq.map((f, k) => [f, adeVal[k] * UNIT]);
    plot.append('path')
      .attr('d', line(adePts) as string)
      .attr('fill', 'none')
      .attr('stroke', seriesColors[6])
      .attr('stroke-width', lw)
      .attr('stroke-linejoin', 'round');

    // spines
    svg.append('rect').attr('x', left).attr('y', top).attr('width', right - left).attr('height', bottom - top)
      .attr('fill', 'none').attr('stroke', '#000').attr('stroke-width', 1.1);

    // tick marks and labels
    const ax = svg.append('g').attr('stroke', '#000').attr('stroke-width', 1.1);
    xTicks.forEach(t => {
      ax.append('line').attr('x1', x(t.v)).attr('x2', x(t.v)).attr('y1', bottom).attr('y2', bottom + (t.major ? 4.7 : 2.7));
      if (t.major) {
        const tx = svg.append('text').attr('x', x(t.v)).attr('y', bottom + 24)
          .attr('text-anchor', 'middle').attr('font-family', font).attr('font-size', 12.5).attr('fill', '#000');
        tx.append('tspan').text('10');
        tx.append('tspan').attr('dy', -6).attr('font-size', 9).text(t.e < 0 ? '\u2212' + (-t.e) : String(t.e));
      }
    });
    yTicks.forEach(t => {
      ax.append('line').attr('x1', left).attr('x2', left - (t.major ? 4.7 : 2.7)).attr('y1', y(t.v)).attr('y2', y(t.v));
      if (t.major) {
        const ty = svg.append('text').attr('x', left - 9).attr('y', y(t.v) + 5)
          .attr('text-anchor', 'end').attr('font-family', font).attr('font-size', 12.5).attr('fill', '#000');
        ty.append('tspan').text('10');
        ty.append('tspan').attr('dy', -6).attr('font-size', 9).text('\u2212' + (-t.e));
      }
    });

    // titles and labels
    const title = svg.append('text').attr('text-anchor', 'middle').attr('font-family', font).attr('font-size', 36).attr('fill', '#000');
    title.append('tspan').attr('x', 1200).attr('y', 60).text('HAM3 CPS Spectra');
    title.append('tspan').attr('x', 1200).attr('y', 100).text('1252659600 to 1252660200');

    svg.append('text').attr('x', (left + right) / 2).attr('y', 1478).attr('text-anchor', 'middle')
      .attr('font-family', font).attr('font-size', 25.5).text('Freq (hz)');
    svg.append('text').attr('transform', `translate(243, ${(top + bottom) / 2}) rotate(-90)`)
      .attr('text-anchor', 'middle').attr('font-family', font).attr('font-size', 26).text('m/rthz');

    const narrow = 'Liberation Sans Narrow, DejaVu Sans Condensed, Liberation Sans, sans-serif';
    svg.append('text').attr('x', 1222).attr('y', 1520).attr('text-anchor', 'middle')
      .attr('font-family', narrow).attr('font-weight', 'bold').attr('font-size', 18)
      .attr('textLength', 187).attr('lengthAdjust', 'spacingAndGlyphs').text('calibration only >10hz');
    svg.append('text').attr('transform', 'translate(2295, 882) rotate(-90)')
      .attr('text-anchor', 'middle').attr('font-family', narrow).attr('font-weight', 'bold').attr('font-size', 16)
      .attr('textLength', 508).attr('lengthAdjust', 'spacingAndGlyphs')
      .text('/opt/rtcds/userapps/trunk/sys/h1/scripts/HAM_cps_spectra.py');

    // legend
    const lg = svg.append('g');
    lg.append('rect').attr('x', 1800).attr('y', 207).attr('width', 346).attr('height', 306).attr('rx', 5)
      .attr('fill', '#fff').attr('fill-opacity', 0.8).attr('stroke', '#cccccc').attr('stroke-width', 1.1);
    seriesNames.forEach((name, i) => {
      const cy = 229 + i * 42.9;
      lg.append('line').attr('x1', 1808).attr('x2', 1868).attr('y1', cy).attr('y2', cy)
        .attr('stroke', seriesColors[i]).attr('stroke-width', lw);
      lg.append('text').attr('x', 1890).attr('y', cy + 10).attr('font-family', font).attr('font-size', 27.5)
        .attr('fill', '#000').text(name);
    });
  }, []);

  return (
    <svg
      ref={ref}
      width={2400}
      height={1600}
      style={{ position: 'absolute', left: 0, top: 0, background: '#fff' }}
    ></svg>
  );
};

export default App;
